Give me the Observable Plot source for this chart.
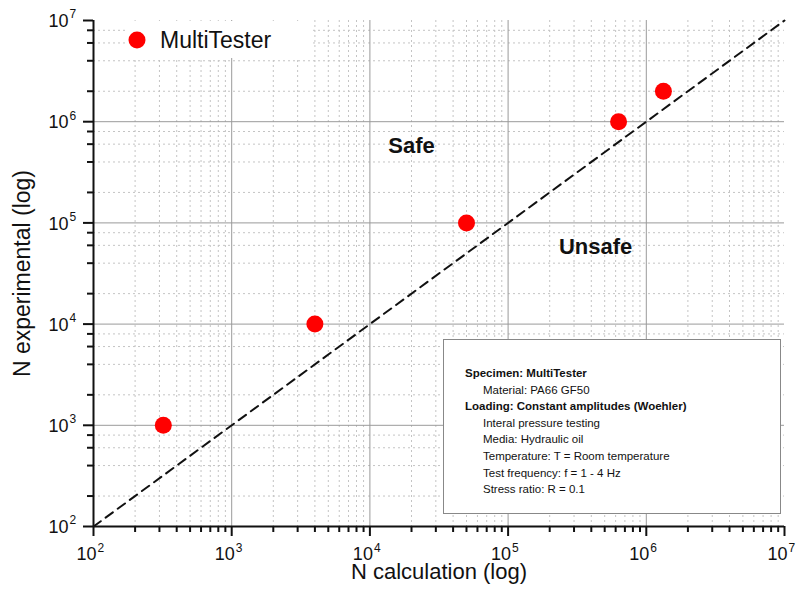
<!DOCTYPE html>
<html>
<head>
<meta charset="utf-8">
<script src="https://cdn.jsdelivr.net/npm/d3@7"></script>
<script src="https://cdn.jsdelivr.net/npm/@observablehq/plot@0.6"></script>
<style>
  html, body { margin: 0; padding: 0; background: #fff; }
  #wrap { position: relative; width: 797px; height: 612px; overflow: hidden; font-family: "Liberation Sans", Arial, sans-serif; }
  #legend { position: absolute; left: 125px; top: 21px; width: 188px; height: 37px; background: #fff; }
  #info { position: absolute; left: 443px; top: 339px; width: 338px; height: 175px; background: #fff;
          border: 1px solid #888; box-sizing: border-box; font-size: 11.5px; line-height: 16.6px; color: #111; padding-top: 25px; padding-left: 21px; }
  #info .b { font-weight: bold; }
  #info .i { padding-left: 18px; }
</style>
</head>
<body>
<div id="wrap"></div>
<script>
// ---- data ----
const seriesName = "MultiTester";
const nCalculation = [320, 4000, 50000, 630000, 1330000];
const nExperimental = [1000, 10000, 100000, 1000000, 2000000];
const diagonalX = [1e2, 1e7];
const diagonalY = [1e2, 1e7];
const decades = [1e2, 1e3, 1e4, 1e5, 1e6, 1e7];
const exponents = ["2", "3", "4", "5", "6", "7"];
const innerDecades = [1e3, 1e4, 1e5, 1e6];
const minorMultX = [2, 3, 4, 5, 6, 7, 8, 9];
const minorMultY = [2, 4, 6, 8];
const annotationText = ["Safe", "Unsafe"];
const annotationX = [20000, 430000];
const annotationY = [580000, 58000];
const infoLines = [
  ["b", "Specimen: MultiTester"],
  ["i", "Material: PA66 GF50"],
  ["b", "Loading: Constant amplitudes (Woehler)"],
  ["i", "Interal pressure testing"],
  ["i", "Media: Hydraulic oil"],
  ["i", "Temperature: T = Room temperature"],
  ["i", "Test frequency: f = 1 - 4 Hz"],
  ["i", "Stress ratio: R = 0.1"]
];

// ---- derived tables ----
const points = nCalculation.map((x, i) => ({x, y: nExperimental[i]}));
const diagonal = diagonalX.map((x, i) => ({x, y: diagonalY[i]}));
const minorX = decades.slice(0, -1).flatMap(d => minorMultX.map(m => d * m));
const minorY = decades.slice(0, -1).flatMap(d => minorMultY.map(m => d * m));
const decadeLabels = decades.map((v, i) => ({v, e: exponents[i]}));
const annotations = annotationText.map((t, i) => ({t, x: annotationX[i], y: annotationY[i]}));

const font = "Liberation Sans, Arial, sans-serif";
const ink = "#111";

const chart = Plot.plot({
  width: 797,
  height: 612,
  marginLeft: 93,
  marginRight: 13,
  marginTop: 20,
  marginBottom: 86,
  style: {fontFamily: font, background: "#fff", color: ink},
  x: {type: "log", domain: [1e2, 1e7], axis: null},
  y: {type: "log", domain: [1e2, 1e7], axis: null},
  marks: [
    // grid
    Plot.ruleX(minorX, {stroke: "#c4c4c4", strokeWidth: 1, strokeDasharray: "2,3"}),
    Plot.ruleY(minorY, {stroke: "#c4c4c4", strokeWidth: 1, strokeDasharray: "2,3"}),
    Plot.ruleX(innerDecades, {stroke: "#9a9a9a", strokeWidth: 1}),
    Plot.ruleY(innerDecades, {stroke: "#9a9a9a", strokeWidth: 1}),
    // data
    Plot.line(diagonal, {x: "x", y: "y", stroke: ink, strokeWidth: 2, strokeDasharray: "9,6"}),
    Plot.dot(points, {x: "x", y: "y", r: 8.5, fill: "#ff0000", stroke: "none"}),
    Plot.text(annotations, {x: "x", y: "y", text: "t", fontSize: 22, fontWeight: "bold", fill: ink}),
    // axis ticks (outward)
    Plot.axisX(decades, {anchor: "bottom", tickSize: 10, tickFormat: () => "", stroke: ink, strokeWidth: 2, label: null}),
    Plot.axisX(minorX, {anchor: "bottom", tickSize: 6, tickFormat: () => "", stroke: ink, strokeWidth: 2, label: null}),
    Plot.axisY(decades, {anchor: "left", tickSize: 10, tickFormat: () => "", stroke: ink, strokeWidth: 2, label: null}),
    Plot.axisY(minorY, {anchor: "left", tickSize: 6, tickFormat: () => "", stroke: ink, strokeWidth: 2, label: null}),
    // axis lines
    Plot.ruleY([1e2], {stroke: ink, strokeWidth: 2}),
    Plot.ruleX([1e2], {stroke: ink, strokeWidth: 2}),
    // tick labels (10 + superscript)
    Plot.text(decadeLabels, {x: "v", y: () => 1e2, text: () => "10", dx: 3, dy: 28, fontSize: 18, textAnchor: "end", fill: ink}),
    Plot.text(decadeLabels, {x: "v", y: () => 1e2, text: "e", dx: 4, dy: 22, fontSize: 12, textAnchor: "start", fill: ink}),
    Plot.text(decadeLabels, {y: "v", x: () => 1e2, text: () => "10", dx: -25, dy: 1, fontSize: 18, textAnchor: "end", fill: ink}),
    Plot.text(decadeLabels, {y: "v", x: () => 1e2, text: "e", dx: -24, dy: -6, fontSize: 12, textAnchor: "start", fill: ink}),
    // axis titles
    Plot.text(["N calculation (log)"], {frameAnchor: "bottom", text: d => d, dy: 45, lineAnchor: "middle", textAnchor: "middle", fontSize: 22, fill: ink}),
    Plot.text(["N experimental (log)"], {frameAnchor: "left", text: d => d, dx: -71, rotate: -90, lineAnchor: "middle", textAnchor: "middle", fontSize: 23, fill: ink})
  ]
});

const wrap = document.getElementById("wrap");
wrap.appendChild(chart);

// legend
const legend = document.createElement("div");
legend.id = "legend";
legend.innerHTML = `<svg width="188" height="37" style="position:absolute;left:0;top:0">
  <circle cx="12" cy="19" r="8.5" fill="#ff0000"></circle>
  <text x="35" y="19" dy="0.35em" font-size="23" font-family="${font}" fill="${ink}">${seriesName}</text></svg>`;
wrap.appendChild(legend);

// info box
const info = document.createElement("div");
info.id = "info";
info.innerHTML = infoLines.map(([c, t]) => `<div class="${c}">${t}</div>`).join("");
wrap.appendChild(info);
</script>
</body>
</html>
